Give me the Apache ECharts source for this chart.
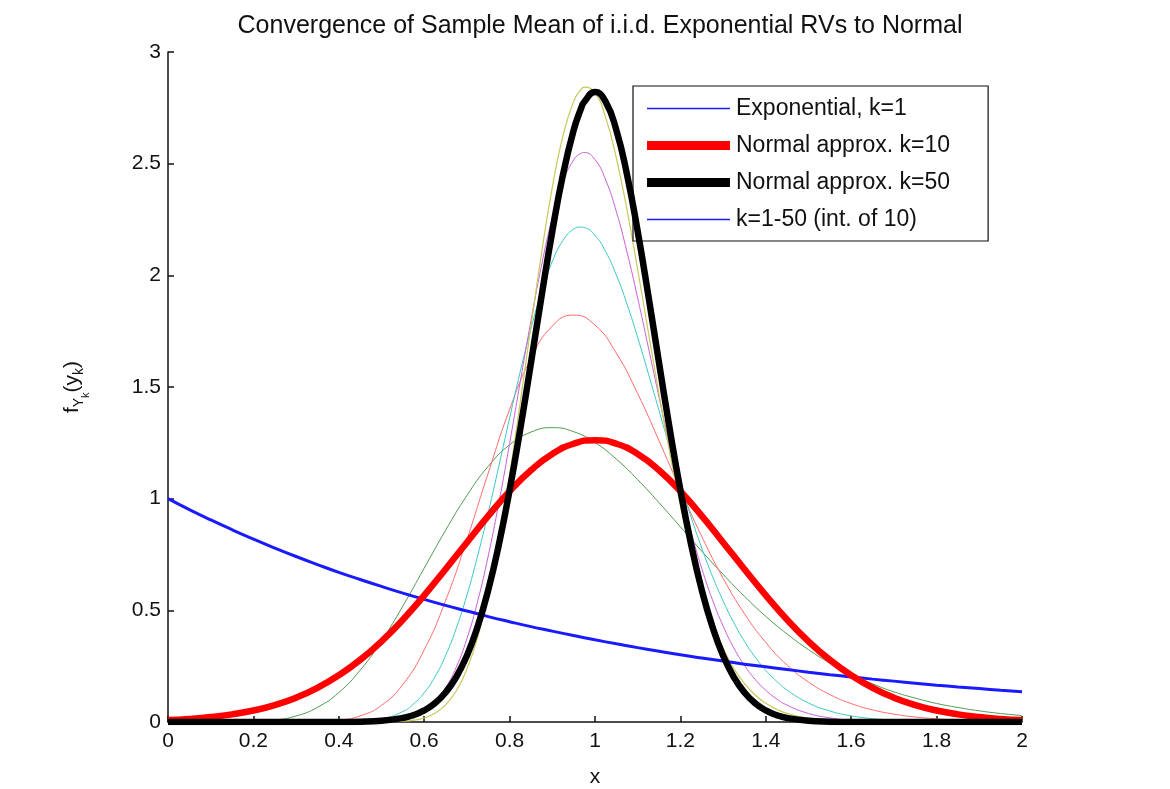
<!DOCTYPE html>
<html>
<head>
<meta charset="utf-8">
<script src="https://cdn.jsdelivr.net/npm/echarts@6/dist/echarts.min.js"></script>
<style>html,body{margin:0;padding:0;background:#fff;}#c{width:1170px;height:789px;}</style>
</head>
<body>
<div id="c"></div>
<script>
// coarse x grid (broad curves)
const xs = [0,0.05,0.1,0.15,0.2,0.25,0.3,0.35,0.4,0.45,0.5,0.55,0.6,0.65,0.7,0.75,0.8,0.85,0.9,0.95,1,
            1.05,1.1,1.15,1.2,1.25,1.3,1.35,1.4,1.45,1.5,1.55,1.6,1.65,1.7,1.75,1.8,1.85,1.9,1.95,2];
// finer x grid (narrow curves)
const xsN = [0,0.05,0.1,0.15,0.2,0.25,0.3,0.35,0.4,0.45,0.5,0.55,
             0.575,0.6,0.625,0.65,0.675,0.7,0.725,0.75,0.775,0.8,0.825,0.85,0.875,0.9,0.925,0.95,0.9667,0.975,1,
             1.025,1.05,1.075,1.1,1.125,1.15,1.175,1.2,1.225,1.25,1.275,1.3,1.325,1.35,1.375,1.4,1.425,
             1.45,1.5,1.55,1.6,1.65,1.7,1.75,1.8,1.85,1.9,1.95,2];

// Exponential, k=1 (on xs)
const expK1 = [1,0.951,0.905,0.861,0.819,0.779,0.741,0.705,0.670,0.638,0.607,0.577,0.549,0.522,0.497,0.472,0.449,0.427,0.407,0.387,0.368,
               0.350,0.333,0.317,0.301,0.287,0.273,0.259,0.247,0.235,0.223,0.212,0.202,0.192,0.183,0.174,0.165,0.157,0.150,0.142,0.135];
// Normal approx. k=10 (on xs)
const norm10 = [0.0085,0.0138,0.0220,0.0341,0.0514,0.0758,0.109,0.153,0.209,0.278,0.361,0.458,0.567,0.684,0.804,0.923,1.033,1.127,1.200,1.246,1.262,
                1.246,1.200,1.127,1.033,0.923,0.804,0.684,0.567,0.458,0.361,0.278,0.209,0.153,0.109,0.0758,0.0514,0.0341,0.0220,0.0138,0.0085];
// k = 10 and k = 20 sample-mean densities (on xs)
const k10 = [0,0,0,0.0002,0.0019,0.0086,0.027,0.0656,0.132,0.232,0.363,0.519,0.689,0.858,1.014,1.145,1.241,1.298,1.318,1.300,1.251,
             1.177,1.085,0.982,0.874,0.765,0.661,0.563,0.473,0.394,0.324,0.264,0.213,0.171,0.135,0.107,0.083,0.065,0.050,0.038,0.029];
const k20 = [0,0,0,0,0,0,0.0002,0.0017,0.0079,0.0274,0.0746,0.168,0.323,0.543,0.817,1.115,1.399,1.627,1.773,1.822,1.777,
             1.651,1.470,1.259,1.040,0.831,0.644,0.485,0.356,0.255,0.179,0.123,0.0825,0.0544,0.0353,0.0225,0.0142,0.0088,0.0054,0.0032,0.0019];

// Normal approx. k=50 (on xsN)
const norm50 = [0,0,0,0,0,0,0,0.0001,0.0003,0.0015,0.0054,0.0179,
                0.0309,0.0517,0.0839,0.132,0.201,0.297,0.426,0.591,0.796,1.038,1.312,1.607,1.909,2.197,2.451,2.650,2.744,2.777,2.821,
                2.777,2.650,2.451,2.197,1.909,1.607,1.312,1.038,0.796,0.591,0.426,0.297,0.201,0.132,0.0839,0.0517,0.0309,
                0.0179,0.0054,0.0015,0.0003,0.0001,0,0,0,0,0,0,0];
// k = 30, 40, 50 sample-mean densities (on xsN)
const k30 = [0,0,0,0,0,0,0,0,0.0004,0.0028,0.0133,0.047,
             0.0805,0.131,0.202,0.297,0.419,0.568,0.743,0.938,1.147,1.361,1.569,1.761,1.928,2.062,2.156,2.207,2.216,2.214,2.179,
             2.106,2.001,1.871,1.721,1.560,1.394,1.228,1.068,0.918,0.779,0.653,0.542,0.445,0.361,0.291,0.231,0.183,
             0.143,0.0852,0.0492,0.0276,0.015,0.008,0.0041,0.0021,0.001,0.0005,0.0002,0.0001];
const k40 = [0,0,0,0,0,0,0,0,0,0.0003,0.0022,0.0124,
             0.0258,0.0499,0.0901,0.153,0.245,0.373,0.539,0.744,0.983,1.247,1.524,1.796,2.046,2.258,2.418,2.517,2.546,2.550,2.518,
             2.427,2.285,2.104,1.898,1.677,1.454,1.237,1.035,0.851,0.688,0.548,0.430,0.332,0.254,0.191,0.142,0.104,
             0.0753,0.0383,0.0186,0.0087,0.0039,0.0017,0.0007,0.0003,0,0,0,0];
const k50 = [0,0,0,0,0,0,0,0,0,0,0.0004,0.0032,
             0.0080,0.0184,0.0390,0.0763,0.139,0.237,0.378,0.571,0.815,1.107,1.432,1.772,2.101,2.394,2.626,2.779,2.832,2.843,2.817,
             2.706,2.525,2.292,2.025,1.745,1.468,1.206,0.970,0.763,0.588,0.445,0.330,0.240,0.172,0.121,0.084,0.0573,
             0.0385,0.0166,0.0068,0.0026,0.001,0.0004,0,0,0,0,0,0];

const xTicks = ['0','0.2','0.4','0.6','0.8','1','1.2','1.4','1.6','1.8','2'];
const yTicks = ['0','0.5','1','1.5','2','2.5','3'];
const legendNames = ['Exponential, k=1','Normal approx. k=10','Normal approx. k=50','k=1-50 (int. of 10)'];

const pairs = (xa, ya) => xa.map((x, i) => [x, ya[i]]);
const FONT = 'Liberation Sans, Arial, sans-serif';

function line(name, xa, ya, color, width, z) {
  return { name, type: 'line', data: pairs(xa, ya), smooth: true, symbol: 'none', z: z,
           lineStyle: { color, width }, itemStyle: { color }, emphasis: { disabled: true }, animation: false };
}
// legend icons: horizontal bar of given thickness inside an 83x10 box
const thinIcon = 'path://M0,0h0.01v0.01h-0.01z M0,4.25h83v1.5h-83z M0,9.99h0.01v0.01h-0.01z';
const thickIcon = 'path://M0,0h0.01v0.01h-0.01z M0,0.5h83v9h-83z M0,9.99h0.01v0.01h-0.01z';

const chart = echarts.init(document.getElementById('c'), null, { renderer: 'canvas' });
chart.setOption({
  backgroundColor: '#fff',
  animation: false,
  title: { text: 'Convergence of Sample Mean of i.i.d. Exponential RVs to Normal', left: 595, textAlign: 'center', top: 9,
           textStyle: { fontFamily: FONT, fontSize: 25, fontWeight: 'normal', color: '#111' } },
  grid: { left: 168, right: 148, top: 52, bottom: 67, containLabel: false, outerBoundsMode: 'none' },
  legend: {
    orient: 'vertical', left: 633, top: 86, itemWidth: 83, itemHeight: 10, itemGap: 14,
    padding: [11, 38, 10, 14], borderColor: '#111', borderWidth: 1.2, backgroundColor: '#fff',
    textStyle: { fontFamily: FONT, fontSize: 23, color: '#111', padding: [0, 0, 0, 1] }, selectedMode: false,
    data: [
      { name: legendNames[0], icon: thinIcon },
      { name: legendNames[1], icon: thickIcon },
      { name: legendNames[2], icon: thickIcon },
      { name: legendNames[3], icon: thinIcon }
    ]
  },
  xAxis: {
    type: 'value', min: 0, max: 2, interval: 0.2,
    name: 'x', nameLocation: 'middle', nameGap: 45,
    nameTextStyle: { fontFamily: FONT, fontSize: 21, color: '#111' },
    axisLine: { lineStyle: { color: '#111', width: 1.5 } },
    axisTick: { inside: true, length: 6, lineStyle: { color: '#111', width: 1.5 } },
    axisLabel: { fontFamily: FONT, fontSize: 21, color: '#111', margin: 9,
                 formatter: v => xTicks[Math.round(v / 0.2)] },
    splitLine: { show: false }
  },
  yAxis: {
    type: 'value', min: 0, max: 3, interval: 0.5,
    name: '{n|f}{s|Y}{ss|k}{n|(y}{s|k}{n|)}', nameLocation: 'middle', nameGap: 80,
    nameTextStyle: { fontFamily: FONT, color: '#111',
      rich: {
        n: { fontFamily: FONT, fontSize: 21, color: '#111', lineHeight: 32, verticalAlign: 'middle' },
        s: { fontFamily: FONT, fontSize: 14, color: '#111', lineHeight: 32, verticalAlign: 'bottom', padding: [0, 0, 2, 0] },
        ss: { fontFamily: FONT, fontSize: 11, color: '#111', lineHeight: 32, verticalAlign: 'bottom', padding: [0, 0, -3, 0] }
      } },
    axisLine: { show: true, lineStyle: { color: '#111', width: 1.5 } },
    axisTick: { show: true, inside: true, length: 6, lineStyle: { color: '#111', width: 1.5 } },
    axisLabel: { fontFamily: FONT, fontSize: 21, color: '#111', margin: 7,
                 formatter: v => yTicks[Math.round(v / 0.5)] },
    splitLine: { show: false }
  },
  series: [
    line('k10', xs, k10, '#4f9a4f', 1, 2),
    line('k20', xs, k20, '#ff6a6a', 1, 2),
    line('k30', xsN, k30, '#3cc6c6', 1, 2),
    line('k40', xsN, k40, '#c95fd6', 1, 2),
    line('k50', xsN, k50, '#c9c75a', 1.2, 2),
    line(legendNames[3], xs, expK1, '#1a1aff', 1, 2),
    line(legendNames[0], xs, expK1, '#1a1aff', 3, 3),
    line(legendNames[1], xs, norm10, '#ff0000', 6.5, 4),
    line(legendNames[2], xsN, norm50, '#000000', 6.5, 5)
  ]
});
</script>
</body>
</html>
